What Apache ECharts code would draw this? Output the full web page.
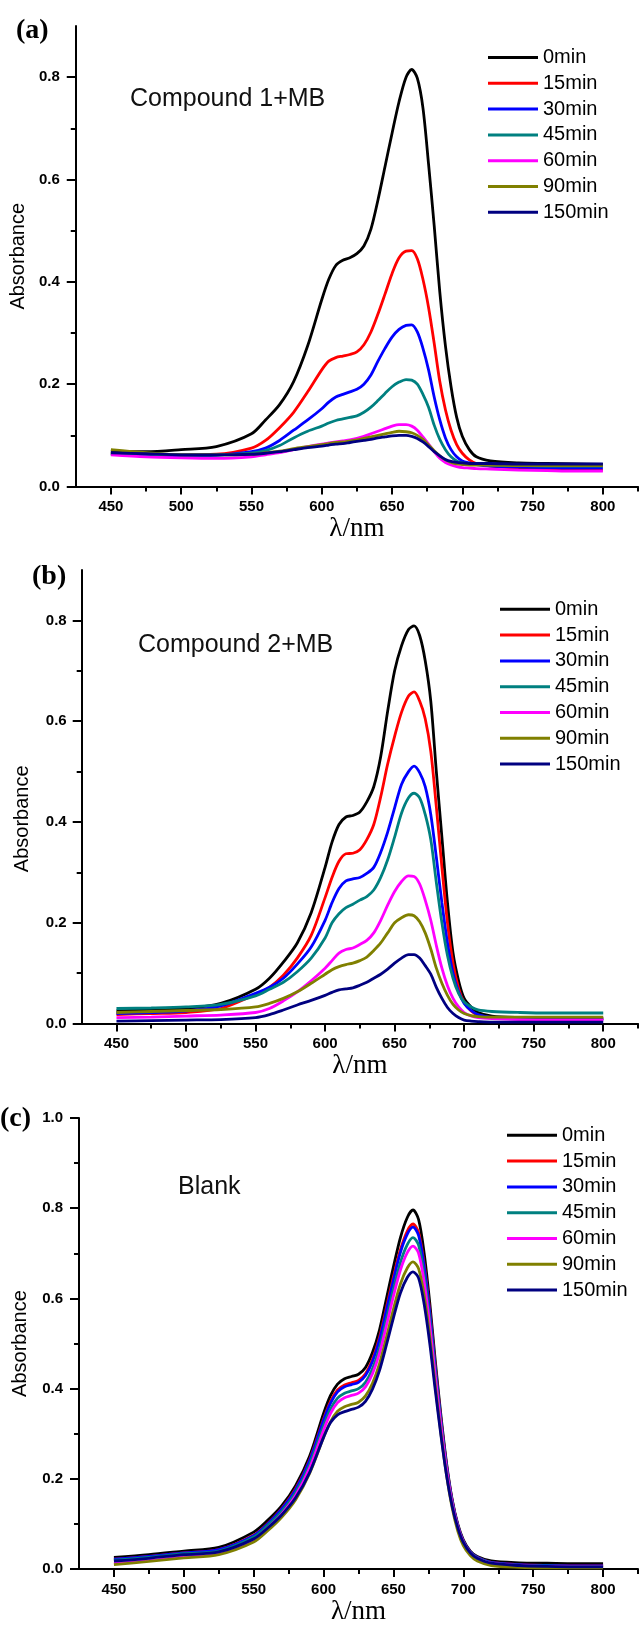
<!DOCTYPE html>
<html>
<head>
<meta charset="utf-8">
<script src="https://cdn.jsdelivr.net/npm/echarts@6/dist/echarts.min.js"></script>
<style>html,body{margin:0;padding:0;background:#fff}#chart{width:640px;height:1626px}</style>
</head>
<body>
<div id="chart"></div>
<script>
// wavelength grid (nm)
const wl = [450,475,500,525,550,560,570,580,590,600,605,610,615,620,625,630,635,640,645,650,655,660,664,668,672,676,680,684,688,692,696,700,705,710,720,740,760,780,800];
const seriesNames = ['0min','15min','30min','45min','60min','90min','150min'];
const seriesColors = ['#000000','#ff0000','#0000ff','#008080','#ff00ff','#808000','#000080'];
const xMajor = [450,500,550,600,650,700,750,800];
const xMinor = [475,525,575,625,675,725,775,825];
const yMajor9 = [0,0.2,0.4,0.6,0.8];
const yMinor9 = [0.1,0.3,0.5,0.7];
const yMajor10 = [0,0.2,0.4,0.6,0.8,1.0];
const yMinor10 = [0.1,0.3,0.5,0.7,0.9];
const panelLabels = ['(a)','(b)','(c)'];
const panelTitles = ['Compound 1+MB','Compound 2+MB','Blank'];

// (a) Compound 1 + MB
const a0   = [0.068,0.068,0.072,0.078,0.103,0.130,0.160,0.205,0.275,0.365,0.405,0.432,0.442,0.447,0.455,0.470,0.503,0.560,0.625,0.690,0.752,0.800,0.815,0.798,0.740,0.630,0.510,0.380,0.275,0.195,0.135,0.098,0.072,0.058,0.050,0.046,0.045,0.044,0.043];
const a15  = [0.065,0.063,0.062,0.063,0.075,0.090,0.115,0.145,0.185,0.228,0.245,0.252,0.255,0.258,0.263,0.277,0.302,0.337,0.376,0.416,0.447,0.460,0.461,0.445,0.405,0.350,0.280,0.205,0.150,0.110,0.082,0.065,0.052,0.045,0.040,0.036,0.034,0.033,0.032];
const a30  = [0.063,0.061,0.060,0.061,0.068,0.075,0.090,0.110,0.130,0.152,0.165,0.175,0.180,0.185,0.190,0.200,0.218,0.245,0.270,0.292,0.307,0.315,0.316,0.302,0.270,0.228,0.175,0.130,0.095,0.072,0.058,0.050,0.046,0.043,0.040,0.038,0.037,0.036,0.036];
const a45  = [0.065,0.063,0.062,0.062,0.065,0.070,0.080,0.095,0.108,0.118,0.124,0.129,0.132,0.135,0.138,0.145,0.155,0.168,0.182,0.195,0.204,0.209,0.208,0.200,0.180,0.155,0.120,0.092,0.072,0.058,0.050,0.046,0.044,0.043,0.042,0.041,0.040,0.040,0.040];
const a60  = [0.062,0.058,0.056,0.055,0.058,0.062,0.066,0.072,0.078,0.083,0.085,0.087,0.089,0.091,0.094,0.098,0.103,0.108,0.113,0.118,0.121,0.121,0.118,0.110,0.097,0.083,0.068,0.055,0.047,0.042,0.039,0.037,0.036,0.035,0.034,0.032,0.031,0.030,0.030];
const a90  = [0.072,0.066,0.062,0.062,0.063,0.066,0.069,0.074,0.078,0.082,0.084,0.086,0.087,0.089,0.091,0.094,0.097,0.100,0.103,0.106,0.108,0.107,0.105,0.100,0.092,0.081,0.070,0.060,0.052,0.047,0.044,0.043,0.042,0.042,0.042,0.041,0.041,0.041,0.041];
const a150 = [0.066,0.064,0.062,0.062,0.063,0.065,0.068,0.072,0.076,0.079,0.081,0.083,0.084,0.086,0.088,0.090,0.092,0.095,0.097,0.099,0.100,0.100,0.098,0.094,0.087,0.078,0.068,0.060,0.053,0.049,0.047,0.046,0.045,0.045,0.045,0.044,0.044,0.044,0.044];

// (b) Compound 2 + MB
const b0   = [0.025,0.028,0.030,0.040,0.068,0.090,0.122,0.160,0.220,0.310,0.360,0.395,0.410,0.413,0.420,0.440,0.470,0.530,0.620,0.700,0.750,0.782,0.789,0.770,0.720,0.640,0.500,0.370,0.240,0.140,0.085,0.050,0.033,0.022,0.015,0.012,0.011,0.010,0.010];
const b15  = [0.018,0.020,0.022,0.030,0.058,0.072,0.096,0.130,0.175,0.250,0.290,0.322,0.337,0.338,0.345,0.365,0.395,0.450,0.515,0.570,0.618,0.650,0.658,0.640,0.605,0.540,0.430,0.310,0.200,0.120,0.070,0.042,0.025,0.017,0.012,0.010,0.010,0.010,0.010];
const b30  = [0.020,0.022,0.025,0.035,0.060,0.072,0.090,0.118,0.152,0.205,0.240,0.268,0.283,0.287,0.290,0.298,0.310,0.340,0.380,0.428,0.475,0.500,0.511,0.498,0.470,0.415,0.330,0.240,0.160,0.100,0.063,0.040,0.026,0.018,0.012,0.009,0.008,0.008,0.008];
const b45  = [0.030,0.031,0.033,0.038,0.055,0.068,0.082,0.103,0.130,0.170,0.200,0.218,0.230,0.237,0.245,0.252,0.265,0.290,0.325,0.370,0.418,0.448,0.457,0.448,0.415,0.365,0.280,0.200,0.135,0.090,0.060,0.043,0.033,0.027,0.024,0.022,0.021,0.021,0.021];
const b60  = [0.012,0.013,0.015,0.017,0.022,0.030,0.045,0.063,0.085,0.110,0.125,0.140,0.147,0.150,0.157,0.165,0.180,0.205,0.235,0.262,0.282,0.293,0.292,0.277,0.245,0.205,0.155,0.110,0.075,0.050,0.033,0.022,0.015,0.012,0.010,0.008,0.007,0.007,0.007];
const b90  = [0.022,0.024,0.026,0.028,0.033,0.040,0.050,0.063,0.080,0.098,0.107,0.113,0.117,0.120,0.125,0.132,0.145,0.160,0.180,0.200,0.210,0.216,0.214,0.202,0.180,0.148,0.110,0.080,0.056,0.038,0.027,0.020,0.016,0.014,0.013,0.013,0.013,0.013,0.013];
const b150 = [0.005,0.006,0.007,0.008,0.012,0.018,0.027,0.037,0.046,0.056,0.062,0.067,0.069,0.071,0.076,0.082,0.090,0.098,0.108,0.120,0.130,0.137,0.137,0.130,0.115,0.098,0.072,0.050,0.032,0.020,0.012,0.007,0.005,0.004,0.003,0.003,0.003,0.003,0.003];

// (c) Blank
const c0   = [0.026,0.032,0.040,0.048,0.082,0.108,0.140,0.185,0.250,0.345,0.385,0.410,0.422,0.427,0.432,0.447,0.480,0.530,0.600,0.670,0.735,0.780,0.796,0.775,0.700,0.590,0.460,0.340,0.235,0.155,0.100,0.065,0.040,0.028,0.018,0.014,0.013,0.012,0.012];
const c15  = [0.022,0.028,0.036,0.043,0.075,0.101,0.134,0.178,0.242,0.333,0.372,0.397,0.408,0.413,0.418,0.433,0.465,0.513,0.580,0.648,0.708,0.750,0.765,0.746,0.676,0.572,0.448,0.332,0.230,0.152,0.097,0.062,0.038,0.026,0.015,0.010,0.008,0.007,0.007];
const c30  = [0.022,0.028,0.036,0.043,0.074,0.100,0.133,0.176,0.240,0.330,0.368,0.393,0.404,0.409,0.414,0.429,0.460,0.508,0.574,0.641,0.702,0.743,0.758,0.740,0.671,0.568,0.445,0.330,0.229,0.151,0.097,0.062,0.038,0.026,0.015,0.010,0.008,0.007,0.007];
const c45  = [0.020,0.026,0.034,0.040,0.071,0.097,0.128,0.170,0.232,0.318,0.355,0.379,0.390,0.395,0.400,0.414,0.444,0.490,0.554,0.620,0.680,0.720,0.735,0.718,0.652,0.553,0.435,0.323,0.225,0.149,0.096,0.061,0.037,0.025,0.014,0.009,0.007,0.006,0.006];
const c60  = [0.012,0.019,0.027,0.034,0.065,0.091,0.122,0.163,0.224,0.308,0.345,0.369,0.380,0.385,0.390,0.404,0.433,0.478,0.540,0.605,0.663,0.702,0.716,0.700,0.636,0.540,0.426,0.317,0.221,0.146,0.094,0.060,0.036,0.024,0.013,0.008,0.006,0.005,0.005];
const c90  = [0.010,0.017,0.025,0.032,0.060,0.085,0.115,0.154,0.212,0.292,0.327,0.350,0.360,0.365,0.370,0.384,0.412,0.455,0.514,0.576,0.632,0.668,0.681,0.666,0.606,0.515,0.405,0.300,0.208,0.136,0.085,0.052,0.030,0.018,0.008,0.004,0.003,0.003,0.003];
const c150 = [0.018,0.024,0.032,0.038,0.067,0.091,0.120,0.158,0.214,0.292,0.325,0.342,0.349,0.354,0.359,0.372,0.399,0.440,0.497,0.557,0.612,0.647,0.659,0.645,0.587,0.500,0.395,0.296,0.208,0.140,0.092,0.059,0.036,0.024,0.013,0.008,0.006,0.005,0.005];

const panels = [
  [a0,a15,a30,a45,a60,a90,a150],
  [b0,b15,b30,b45,b60,b90,b150],
  [c0,c15,c30,c45,c60,c90,c150]
];

const layout = [
  {left:71, top:26, width:567, height:460.5, yMax:0.9, yMaj:yMajor9, yMin:yMinor9, yGap:36, yPad:[0,0,0,0], yMargin:16, xGap:27,
   lab:{left:16, top:17}, ttl:{left:130, top:86.5}, leg:{left:488, top:47.5}},
  {left:81.7, top:570, width:556.3, height:453.6, yMax:0.9, yMaj:yMajor9, yMin:yMinor9, yGap:49, yPad:[0,44,0,0], yMargin:15, xGap:28,
   lab:{left:32, top:563}, ttl:{left:138, top:632.5}, leg:{left:500, top:599.3}},
  {left:79, top:1118, width:559, height:456, yMax:1.0, yMaj:yMajor10, yMin:yMinor10, yGap:49, yPad:[0,0,0,0], yMargin:16, xGap:27,
   lab:{left:0, top:1104.5}, ttl:{left:178, top:1174.5}, leg:{left:507, top:1125.3}}
];

const grids = [], xAxes = [], yAxes = [], series = [], titles = [], legends = [];
const axisLineStyle = {color:'#000', width:2};
layout.forEach((L, p) => {
  grids.push({left:L.left, top:L.top, width:L.width, height:L.height, containLabel:false});
  xAxes.push({type:'value', gridIndex:p, position:'bottom', min:425, max:825, interval:25,
    axisLine:{show:true, onZero:false, lineStyle:axisLineStyle},
    axisTick:{show:true, length:8, customValues:xMajor, lineStyle:axisLineStyle},
    axisLabel:{show:true, customValues:xMajor, margin:13, fontFamily:'Liberation Sans', fontWeight:'bold', fontSize:15, color:'#000', formatter:v=>String(Math.round(v))},
    splitLine:{show:false},
    name:'λ/nm', nameLocation:'middle', nameGap:L.xGap,
    nameTextStyle:{fontFamily:'Liberation Serif', fontSize:27, color:'#000'}});
  xAxes.push({type:'value', gridIndex:p, position:'bottom', min:425, max:825, interval:25,
    axisLine:{show:false, onZero:false},
    axisTick:{show:true, length:5, customValues:xMinor, lineStyle:axisLineStyle},
    axisLabel:{show:false}, splitLine:{show:false}});
  yAxes.push({type:'value', gridIndex:p, position:'left', min:0, max:L.yMax, interval:0.1,
    axisLine:{show:true, onZero:false, lineStyle:axisLineStyle},
    axisTick:{show:true, length:9, customValues:L.yMaj, lineStyle:axisLineStyle},
    axisLabel:{show:true, customValues:L.yMaj, margin:L.yMargin, fontFamily:'Liberation Sans', fontWeight:'bold', fontSize:15, color:'#000', formatter:v=>v.toFixed(1)},
    splitLine:{show:false},
    name:'Absorbance', nameLocation:'middle', nameGap:L.yGap,
    nameTextStyle:{fontFamily:'Liberation Sans', fontSize:20, color:'#000', padding:L.yPad}});
  yAxes.push({type:'value', gridIndex:p, position:'left', min:0, max:L.yMax, interval:0.1,
    axisLine:{show:false, onZero:false},
    axisTick:{show:true, length:5, customValues:L.yMin, lineStyle:axisLineStyle},
    axisLabel:{show:false}, splitLine:{show:false}});

  panels[p].forEach((vals, s) => {
    series.push({type:'line', name:seriesNames[s], xAxisIndex:p*2, yAxisIndex:p*2,
      data: wl.map((x,i)=>[x, vals[i]]),
      showSymbol:false, smooth:0.3, color:seriesColors[s],
      lineStyle:{width:2.8, color:seriesColors[s]}, emphasis:{disabled:true}, z:2+s});
  });

  titles.push({text:panelLabels[p], left:L.lab.left, top:L.lab.top, padding:0,
    textStyle:{fontFamily:'Liberation Serif', fontWeight:'bold', fontSize:28, color:'#000'}});
  titles.push({text:panelTitles[p], left:L.ttl.left, top:L.ttl.top, padding:0,
    textStyle:{fontFamily:'Liberation Sans', fontWeight:'normal', fontSize:25, color:'#111'}});

  legends.push({orient:'vertical', left:L.leg.left, top:L.leg.top, padding:0, itemGap:5.8,
    itemWidth:50, itemHeight:3, icon:'rect', selectedMode:false, data:seriesNames,
    textStyle:{fontFamily:'Liberation Sans', fontSize:20, lineHeight:20, color:'#000'}});
});

const chart = echarts.init(document.getElementById('chart'), null, {renderer:'canvas'});
chart.setOption({
  animation:false,
  backgroundColor:'#fff',
  title:titles,
  legend:legends,
  grid:grids,
  xAxis:xAxes,
  yAxis:yAxes,
  series:series
});
</script>
</body>
</html>
